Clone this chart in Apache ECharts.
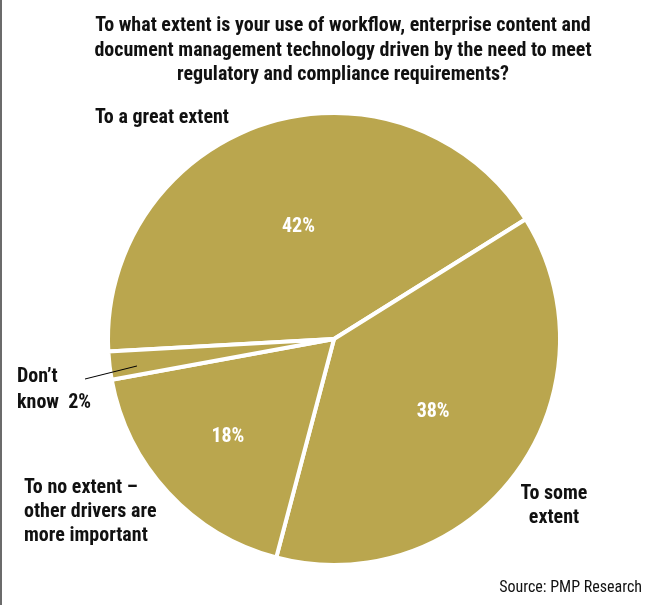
<!DOCTYPE html>
<html>
<head>
<meta charset="utf-8">
<script src="https://cdn.jsdelivr.net/npm/echarts@6/dist/echarts.min.js"></script>
<style>
  html, body { margin: 0; padding: 0; background: #fff; }
  #chart { width: 652px; height: 605px; box-sizing: border-box; border-left: 2px solid #6b6b6b; }
</style>
</head>
<body>
<div id="chart"></div>
<script>
// Survey answers and their shares (%)
const categories = [
  'To a great extent',
  'To some\nextent',
  'To no extent –\nother drivers are\nmore important',
  'Don\u2019t\nknow  2%'
];
const shares = [42, 38, 18, 2];
const titleText = 'To what extent is your use of workflow, enterprise content and\ndocument management technology driven by the need to meet\nregulatory and compliance requirements?';
const sourceText = 'Source: PMP Research';

const FONT = '"Liberation Sans Narrow", "Arial Narrow", "Roboto Condensed", "Liberation Sans", sans-serif';
const GOLD = '#baa64e';
const CX = 332, CY = 339, R = 226, START = 183.2;

// mid angle (degrees, counter-clockwise from 3 o'clock) of each slice, pie runs clockwise
const total = shares.reduce((a, b) => a + b, 0);
const midAngles = [];
let acc = 0;
shares.forEach(v => {
  midAngles.push(START - (acc + v / 2) / total * 360);
  acc += v;
});
function polar(angleDeg, r) {
  const a = angleDeg * Math.PI / 180;
  return [CX + r * Math.cos(a), CY - r * Math.sin(a)];
}

// placement of the outer category labels
const nameSpots = [
  { x: 93, y: 106, align: 'left' },
  { x: 552, y: 482, align: 'center' },
  { x: 22, y: 476, align: 'left' },
  { x: 15, y: 364, align: 'left' }
];
// radial position of the percentage labels inside slices (fraction of radius)
const innerRadial = [0.52, 0.545, 0.64, 0];

const chart = echarts.init(document.getElementById('chart'));
const pieData = categories.map((name, i) => ({ name, value: shares[i] }));
const base = {
  type: 'pie',
  center: [CX, CY],
  radius: R,
  startAngle: START,
  clockwise: true,
  silent: true
};

chart.setOption({
  backgroundColor: '#fff',
  animation: false,
  title: [{
    text: titleText,
    left: 336,
    top: 9,
    textAlign: 'center',
    textStyle: { fontFamily: FONT, fontWeight: 'bold', fontSize: 20, lineHeight: 24.5, color: '#111' }
  }, {
    text: sourceText,
    right: 5,
    top: 575,
    textStyle: { fontFamily: FONT, fontWeight: 'normal', fontSize: 16, color: '#111' }
  }],
  series: [
    // the slices
    Object.assign({}, base, {
      z: 2,
      itemStyle: { color: GOLD, borderColor: '#fff', borderWidth: 4 },
      label: { show: false },
      labelLine: { show: false },
      data: pieData
    }),
    // category names around the pie (leader line for the smallest slice)
    Object.assign({}, base, {
      z: 5,
      itemStyle: { color: 'rgba(0,0,0,0)', borderWidth: 0 },
      label: {
        show: true,
        position: 'outside',
        formatter: '{b}',
        overflow: 'none',
        fontFamily: FONT, fontWeight: 'bold', fontSize: 20, lineHeight: 24, color: '#111'
      },
      labelLine: { show: false },
      data: pieData.map((d, i) => Object.assign({}, d, i === 3 ? {
        labelLine: { show: true, lineStyle: { color: '#000', width: 1 } },
        label: { lineHeight: 26 }
      } : {})),
      labelLayout: function (p) {
        const s = nameSpots[p.dataIndex];
        const out = { x: s.x, y: s.y, align: s.align, verticalAlign: 'top' };
        if (p.dataIndex === 3) {
          const inner = polar(midAngles[3] + 1, R * 0.88);
          out.labelLinePoints = [[83, 379], [(83 + inner[0]) / 2, (379 + inner[1]) / 2], inner];
        }
        return out;
      }
    }),
    // percentages inside the slices
    Object.assign({}, base, {
      z: 5,
      itemStyle: { color: 'rgba(0,0,0,0)', borderWidth: 0 },
      label: {
        show: true,
        position: 'inside',
        formatter: '{c}%',
        fontFamily: FONT, fontWeight: 'bold', fontSize: 20, color: '#fff'
      },
      labelLine: { show: false },
      data: pieData.map((d, i) => Object.assign({}, d, i === 3 ? { label: { show: false } } : {})),
      labelLayout: function (p) {
        const pt = polar(midAngles[p.dataIndex], R * innerRadial[p.dataIndex]);
        return { x: pt[0], y: pt[1], align: 'center', verticalAlign: 'middle' };
      }
    })
  ]
});
</script>
</body>
</html>
